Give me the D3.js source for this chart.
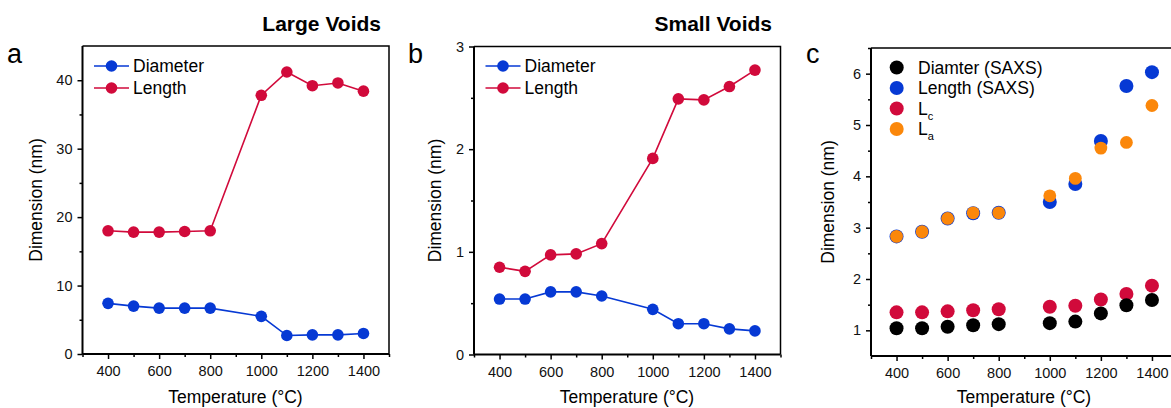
<!DOCTYPE html>
<html>
<head>
<meta charset="utf-8">
<script src="https://cdn.jsdelivr.net/npm/d3@7"></script>
<style>
  body { margin: 0; background: #fff; }
  svg { display: block; font-family: Arial, "Liberation Sans", sans-serif; }
</style>
</head>
<body>
<svg width="1171" height="408"></svg>
<script>

// temperatures (°C)
const temps = [400, 500, 600, 700, 800, 1000, 1100, 1200, 1300, 1400];

// panel a: large voids (nm)
const largeDiameter = [7.4, 7.0, 6.7, 6.7, 6.7, 5.5, 2.7, 2.8, 2.8, 3.0];
const largeLength = [18.0, 17.8, 17.8, 17.9, 18.0, 37.8, 41.2, 39.2, 39.6, 38.4];

// panel b: small voids (nm)
const smallDiameter = [0.54, 0.54, 0.61, 0.61, 0.57, 0.44, 0.30, 0.30, 0.25, 0.23];
const smallLength = [0.85, 0.81, 0.97, 0.98, 1.08, 1.91, 2.49, 2.48, 2.61, 2.77];

// panel c
const saxsDiameter = [1.04, 1.04, 1.07, 1.10, 1.12, 1.14, 1.17, 1.33, 1.49, 1.59];
const saxsLength = [2.83, 2.92, 3.18, 3.28, 3.29, 3.50, 3.85, 4.69, 5.76, 6.03];
const lc = [1.35, 1.35, 1.37, 1.39, 1.41, 1.46, 1.48, 1.60, 1.71, 1.87];
const la = [2.83, 2.92, 3.18, 3.29, 3.29, 3.62, 3.96, 4.55, 4.66, 5.38];

const xTicks = [400, 600, 800, 1000, 1200, 1400];
const xMinor = [300, 500, 700, 900, 1100, 1300, 1500];

const BLUE = "#0639d4", RED = "#d10a3b", ORANGE = "#fb870a", BLACK = "#000";

const svg = d3.select("svg");

function panel(opt) {
  const g = svg.append("g");
  const x = d3.scaleLinear().domain([300, 1500]).range([opt.left, opt.left + 306.5]);
  const y = d3.scaleLinear().domain(opt.yDomain).range([opt.bottom, opt.top]);

  // frame top/right
  g.append("path")
    .attr("d", `M${opt.left},${opt.top}H${opt.left + 306.5}V${opt.bottom}`)
    .attr("fill", "none").attr("stroke", "#000").attr("stroke-width", 1.5);

  // minor ticks
  const bx = g.append("g").attr("transform", `translate(0,${opt.bottom})`)
    .call(d3.axisBottom(x).tickValues(xMinor).tickSize(3).tickFormat(""));
  const ly = g.append("g").attr("transform", `translate(${opt.left},0)`)
    .call(d3.axisLeft(y).tickValues(opt.yMinor).tickSize(3).tickFormat(""));

  const ax = g.append("g").attr("transform", `translate(0,${opt.bottom})`)
    .call(d3.axisBottom(x).tickValues(xTicks).tickSize(5).tickPadding(7).tickFormat(d3.format("d")));
  const ay = g.append("g").attr("transform", `translate(${opt.left},0)`)
    .call(d3.axisLeft(y).tickValues(opt.yTicks).tickSize(5).tickPadding(5).tickFormat(d3.format("d")));

  g.selectAll(".domain").attr("stroke-width", 2).attr("d", null);
  ax.select(".domain").attr("d", `M${opt.left},0H${opt.left + 306.5}`);
  ay.select(".domain").attr("d", `M0,${opt.bottom}V${opt.top}`);
  bx.select(".domain").remove();
  ly.select(".domain").remove();
  g.selectAll(".tick line").attr("stroke-width", 1.5);
  g.selectAll(".tick text").attr("font-size", 14.5).attr("fill", "#111")
    .attr("font-family", "Arial, 'Liberation Sans', sans-serif");

  // axis titles
  g.append("text").attr("x", opt.left + 153).attr("y", 403)
    .attr("text-anchor", "middle").attr("font-size", 17.5).text("Temperature (°C)");
  g.append("text")
    .attr("transform", `translate(${opt.ytx},${(opt.top + opt.bottom) / 2}) rotate(-90)`)
    .attr("text-anchor", "middle").attr("font-size", 17.5).text("Dimension (nm)");

  // panel letter
  g.append("text").attr("x", opt.letterX).attr("y", 63).attr("font-size", 27).text(opt.letter);

  if (opt.title) {
    g.append("text").attr("x", opt.titleX).attr("y", 31).attr("text-anchor", "end")
      .attr("font-size", 21).attr("font-weight", "bold").text(opt.title);
  }
  return { g, x, y };
}

function linePanel(opt, series) {
  const { g, x, y } = panel(opt);
  const line = d3.line().x((d, i) => x(temps[i])).y(d => y(d));
  series.forEach(s => {
    g.append("path").datum(s.values).attr("d", line)
      .attr("fill", "none").attr("stroke", s.color).attr("stroke-width", 1.6);
    g.selectAll(null).data(s.values).enter().append("circle")
      .attr("cx", (d, i) => x(temps[i])).attr("cy", d => y(d)).attr("r", 5.8)
      .attr("fill", s.color);
  });
  // legend
  series.forEach((s, i) => {
    const ly = 66 + i * 22;
    const lx = opt.left + 11.5;
    g.append("line").attr("x1", lx).attr("x2", lx + 35).attr("y1", ly).attr("y2", ly)
      .attr("stroke", s.color).attr("stroke-width", 1.6);
    g.append("circle").attr("cx", lx + 17.5).attr("cy", ly).attr("r", 5.8).attr("fill", s.color);
    g.append("text").attr("x", lx + 39).attr("y", ly + 6).attr("font-size", 17.5).text(s.name);
  });
}

linePanel({
  left: 82.5, top: 46, bottom: 354, yDomain: [0, 45],
  yTicks: [0, 10, 20, 30, 40], yMinor: [5, 15, 25, 35],
  ytx: 42, letter: "a", letterX: 7, title: "Large Voids", titleX: 381
}, [
  { name: "Diameter", values: largeDiameter, color: BLUE },
  { name: "Length", values: largeLength, color: RED }
]);

linePanel({
  left: 474, top: 46.5, bottom: 354.5, yDomain: [0, 3],
  yTicks: [0, 1, 2, 3], yMinor: [0.5, 1.5, 2.5],
  ytx: 441, letter: "b", letterX: 408, title: "Small Voids", titleX: 772
}, [
  { name: "Diameter", values: smallDiameter, color: BLUE },
  { name: "Length", values: smallLength, color: RED }
]);

// panel c: scatter
(function () {
  const { g, x, y } = panel({
    left: 871, top: 48, bottom: 356, yDomain: [0.5, 6.5],
    yTicks: [1, 2, 3, 4, 5, 6], yMinor: [1.5, 2.5, 3.5, 4.5, 5.5, 6.5],
    ytx: 834, letter: "c", letterX: 806
  });
  const series = [
    { values: lc, color: RED, r: 7 },
    { values: saxsDiameter, color: BLACK, r: 7 },
    { values: saxsLength, color: BLUE, r: 7 },
    { values: la, color: ORANGE, r: 6.4 }
  ];
  series.forEach(s => {
    g.selectAll(null).data(s.values).enter().append("circle")
      .attr("cx", (d, i) => x(temps[i])).attr("cy", d => y(d)).attr("r", s.r)
      .attr("fill", s.color);
  });
  const legend = [
    { name: "Diamter (SAXS)", color: BLACK },
    { name: "Length (SAXS)", color: BLUE },
    { name: "L", sub: "c", color: RED },
    { name: "L", sub: "a", color: ORANGE }
  ];
  legend.forEach((s, i) => {
    const ly = 67.5 + i * 20.5;
    g.append("circle").attr("cx", 896.7).attr("cy", ly).attr("r", 7).attr("fill", s.color);
    const t = g.append("text").attr("x", 918).attr("y", ly + 6).attr("font-size", 17.5).text(s.name);
    if (s.sub) t.append("tspan").attr("dy", 5).attr("font-size", 11).text(s.sub);
  });
})();

</script>
</body>
</html>
